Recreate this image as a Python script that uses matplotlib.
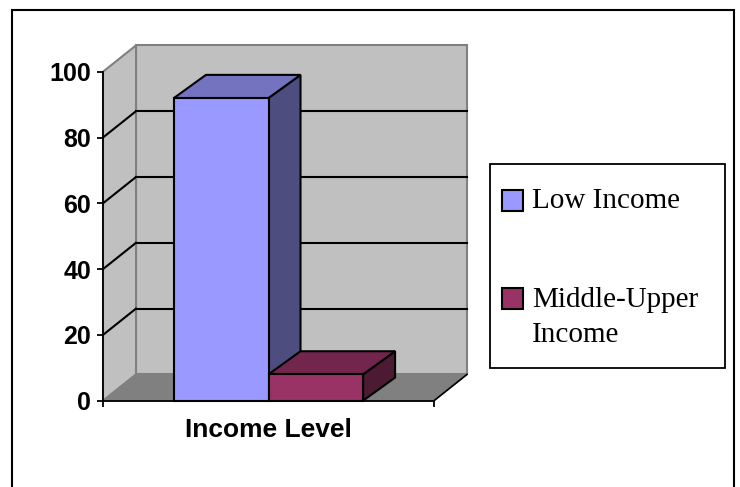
import matplotlib
matplotlib.use('Agg')
import matplotlib.pyplot as plt
from matplotlib.patches import Polygon, Rectangle

categories = ["Income Level"]
series = ["Low Income", "Middle-Upper\nIncome"]
values = [92, 8]
front_colors = ["#9999FF", "#993366"]
top_colors = ["#7373BF", "#73264D"]
side_colors = ["#4D4D80", "#4D1A33"]
yticks = [0, 20, 40, 60, 80, 100]

W, H = 740, 487
fig = plt.figure(figsize=(W / 100, H / 100), dpi=100)
ax = fig.add_axes([103 / W, (H - 400.7) / H, (434 - 103) / W, (400.7 - 71.7) / H])
ax.set_xlim(0, 1)
ax.set_ylim(0, 100)
ax.patch.set_visible(False)

# depth offsets (data units)
DX = 33 / 331
DY = 26.3 / 329 * 100
wall = "#C0C0C0"
floorc = "#808080"

# back wall, left wall, floor
ax.add_patch(Polygon([(DX, DY), (1 + DX, DY), (1 + DX, 100 + DY), (DX, 100 + DY)],
                     closed=True, fc=wall, ec="#808080", lw=1.5, clip_on=False, zorder=0))
ax.add_patch(Polygon([(0, 0), (DX, DY), (DX, 100 + DY), (0, 100)],
                     closed=True, fc=wall, ec="#808080", lw=1.5, clip_on=False, zorder=0))
ax.add_patch(Polygon([(0, 0), (1, 0), (1 + DX, DY), (DX, DY)],
                     closed=True, fc=floorc, ec=floorc, lw=1, clip_on=False, zorder=0.5))
ax.plot([1, 1 + DX], [0, DY], color="black", lw=1.2, clip_on=False, zorder=0.6)

# gridlines on back and side walls
for t in yticks[1:-1]:
    ax.plot([DX, 1 + DX], [t + DY, t + DY], color="black", lw=1.5, clip_on=False, zorder=0.7)
    ax.plot([0, DX], [t, t + DY], color="black", lw=1.5, clip_on=False, zorder=0.7)

# 3D bars
n = len(values)
w = 1 / (n + 1.5)
left = 0.5 - n * w / 2
bdx, bdy = DX * 0.97, DY * 0.88
for i, v in enumerate(values):
    x0 = left + i * w
    z = 1 + i
    ax.add_patch(Polygon([(x0 + w, 0), (x0 + w + bdx, bdy), (x0 + w + bdx, v + bdy), (x0 + w, v)],
                         closed=True, fc=side_colors[i], ec="black", lw=1.5, clip_on=False, zorder=z))
    ax.add_patch(Polygon([(x0, v), (x0 + w, v), (x0 + w + bdx, v + bdy), (x0 + bdx, v + bdy)],
                         closed=True, fc=top_colors[i], ec="black", lw=1.5, clip_on=False, zorder=z))
    ax.add_patch(Rectangle((x0, 0), w, v, fc=front_colors[i], ec="black", lw=1.5,
                           clip_on=False, zorder=z + 0.1, label=series[i]))

# axes
for s in ["top", "right"]:
    ax.spines[s].set_visible(False)
for s in ["left", "bottom"]:
    ax.spines[s].set_linewidth(1.3)
    ax.spines[s].set_zorder(5)
ax.set_yticks(yticks)
ax.set_yticklabels([str(t) for t in yticks], fontsize=18, fontweight="bold",
                   family=["Liberation Sans", "DejaVu Sans"])
ax.set_xticks([0, 1])
ax.set_xticklabels(["", ""])
ax.tick_params(axis="both", direction="out", length=4.5, width=1.3, pad=4)
ax.set_xlabel(categories[0], fontsize=19, fontweight="bold",
              family=["Liberation Sans", "DejaVu Sans"], labelpad=4)

# legend (drawn as an Excel-style boxed key)
tf = fig.transFigure
fig.patches.append(Rectangle((490 / W, 1 - 368 / H), 235 / W, 204 / H, transform=tf,
                             fc="white", ec="black", lw=1.3, zorder=10))
first_baselines = [208.5, 306.7]
line_step = 35
cap = 16.5
for i, lab in enumerate(series):
    b = first_baselines[i]
    cy = b - cap / 2
    fig.patches.append(Rectangle((502 / W, 1 - (cy + 10.5) / H), 21 / W, 21 / H, transform=tf,
                                 fc=front_colors[i], ec="black", lw=1.5, zorder=11))
    for k, line in enumerate(lab.split("\n")):
        fig.text(532 / W, 1 - (b + k * line_step) / H, line, fontsize=21,
                 family=["Liberation Serif", "DejaVu Serif"], va="baseline", ha="left",
                 zorder=12)

# outer chart border
fig.patches.append(Rectangle((12 / W, -0.05), (734 - 12) / W, (H - 10) / H + 0.05,
                             transform=tf, fill=False, ec="black", lw=1.5))

fig.savefig("out.png", dpi=100)
